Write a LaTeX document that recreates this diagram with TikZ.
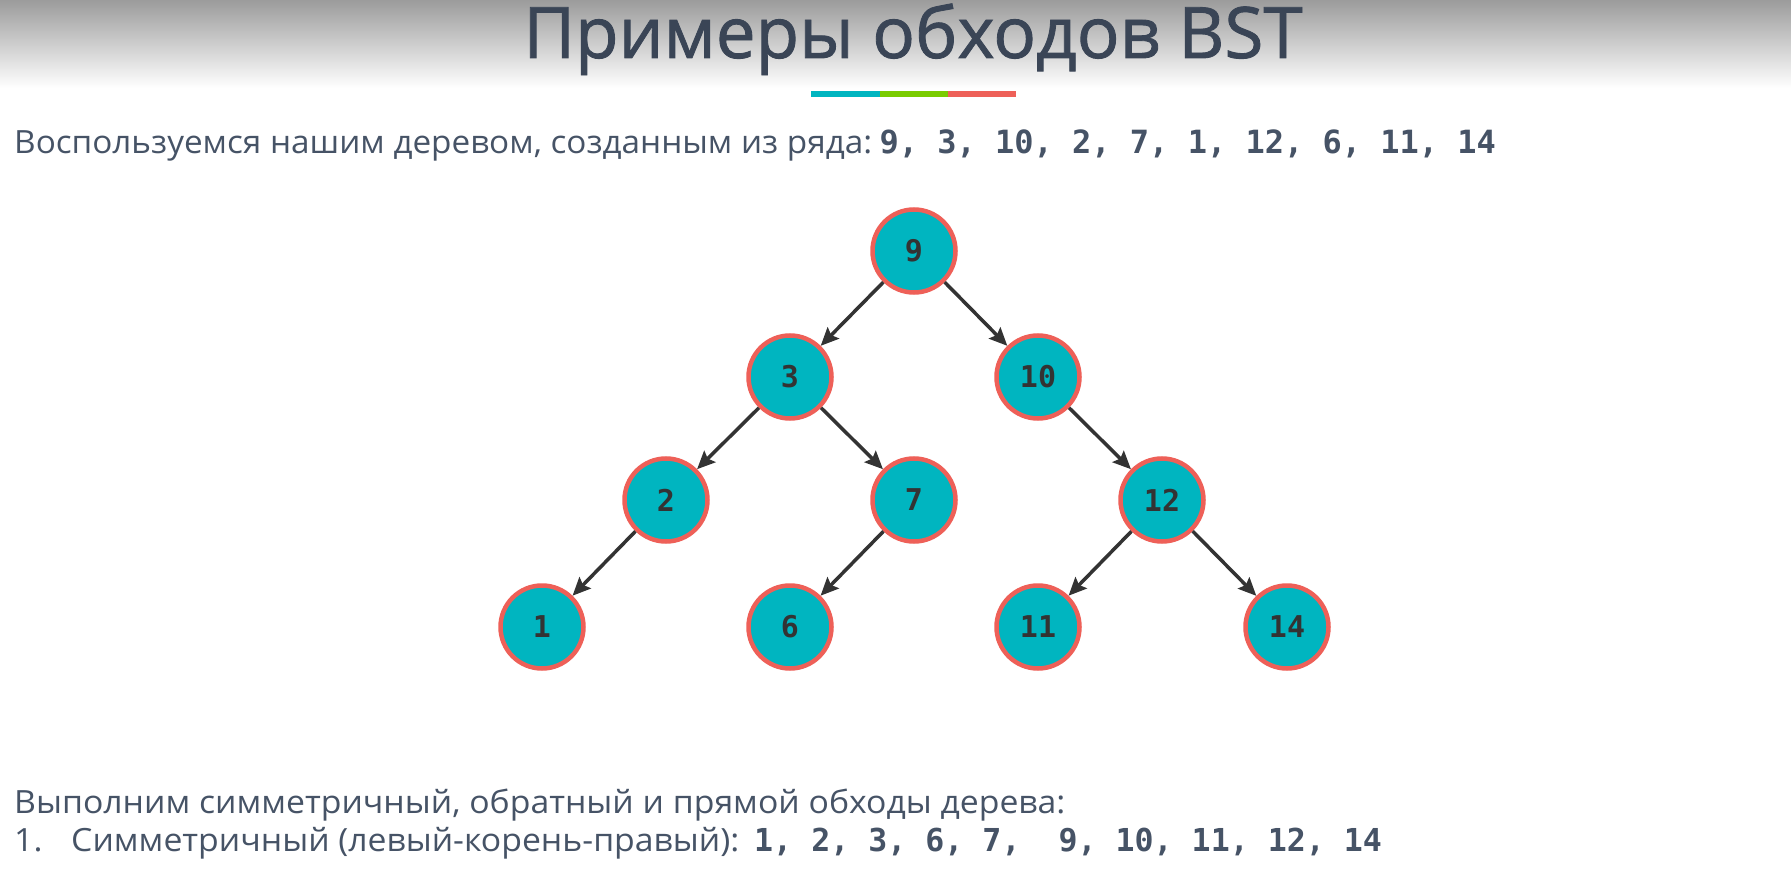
\documentclass[tikz,border=0pt]{standalone}
\usepackage{fontspec}
\setmainfont{Open Sans}[FakeStretch=1.055]
\newfontfamily\introfont{Open Sans}[FakeStretch=1.04]
\newfontfamily\titlefont{Open Sans}[FakeBold=1.2]
\newfontfamily\monob{DejaVu Sans Mono}[BoldFont={DejaVu Sans Mono Bold}]
\usetikzlibrary{arrows.meta}
\definecolor{teal}{HTML}{00B5C0}
\definecolor{redb}{HTML}{EE6058}
\definecolor{greenb}{HTML}{7ACC00}
\definecolor{txt}{HTML}{465366}
\definecolor{ttl}{HTML}{3A4556}
\definecolor{arr}{HTML}{333333}
\tikzset{
  bst/.style={circle, fill=teal, draw=redb, line width=4.5pt, minimum size=83pt, inner sep=0pt,
    font=\monob\bfseries\fontsize{30}{30}\selectfont, text=arr},
  edge/.style={draw=arr, line width=3.5pt, -{Stealth[length=18pt,width=16pt,inset=3pt]}},
  body/.style={anchor=base west, inner sep=0pt, text=txt, font=\fontsize{32}{32}\selectfont},
  mono/.style={anchor=base west, inner sep=0pt, text=txt, font=\monob\bfseries\fontsize{32}{32}\selectfont}
}
\begin{document}
\begin{tikzpicture}[x=1pt,y=-1pt]
\useasboundingbox (0,0) rectangle (1791,893);
\fill[white] (0,0) rectangle (1791,893);
\shade[top color=black!39, bottom color=white] (0,0) rectangle (1791,88);
% title
\node[anchor=base, inner sep=0pt, text=ttl, font=\titlefont\fontsize{71}{71}\selectfont] (title) at (913,58) {Примеры обходов BST};
\fill[teal] (811,91) rectangle (880,97);
\fill[greenb] (880,91) rectangle (948,97);
\fill[redb] (948,91) rectangle (1016,97);
% intro line
\node[body, font=\introfont\fontsize{32}{32}\selectfont] (intro) at (14,154) {Воспользуемся нашим деревом, созданным из ряда:};
\node[mono, xshift=7pt] (seq) at (intro.base east) {9, 3, 10, 2, 7, 1, 12, 6, 11, 14};
% tree
\node[bst] (n9) at (914,251) {9};
\node[bst] (n3) at (790,377) {3};
\node[bst] (n10) at (1038,377) {10};
\node[bst] (n2) at (666,500) {2};
\node[bst] (n7) at (914,500) {7};
\node[bst] (n12) at (1162,500) {12};
\node[bst] (n1) at (542,627) {1};
\node[bst] (n6) at (790,627) {6};
\node[bst] (n11) at (1038,627) {11};
\node[bst] (n14) at (1287,627) {14};
\draw[edge] (n9) -- (n3);
\draw[edge] (n9) -- (n10);
\draw[edge] (n3) -- (n2);
\draw[edge] (n3) -- (n7);
\draw[edge] (n10) -- (n12);
\draw[edge] (n2) -- (n1);
\draw[edge] (n7) -- (n6);
\draw[edge] (n12) -- (n11);
\draw[edge] (n12) -- (n14);
% bottom text
\node[body] (l1) at (14,813) {Выполним симметричный, обратный и прямой обходы дерева:};
\node[body] (l2a) at (14,851) {1.};
\node[body] (l2b) at (71,851) {Симметричный (левый-корень-правый):};
\node[mono, font=\monob\bfseries\fontsize{31.6}{31.6}\selectfont] (l2c) at (754,851) {1, 2, 3, 6, 7,\ \ 9, 10, 11, 12, 14};
\end{tikzpicture}
\end{document}
